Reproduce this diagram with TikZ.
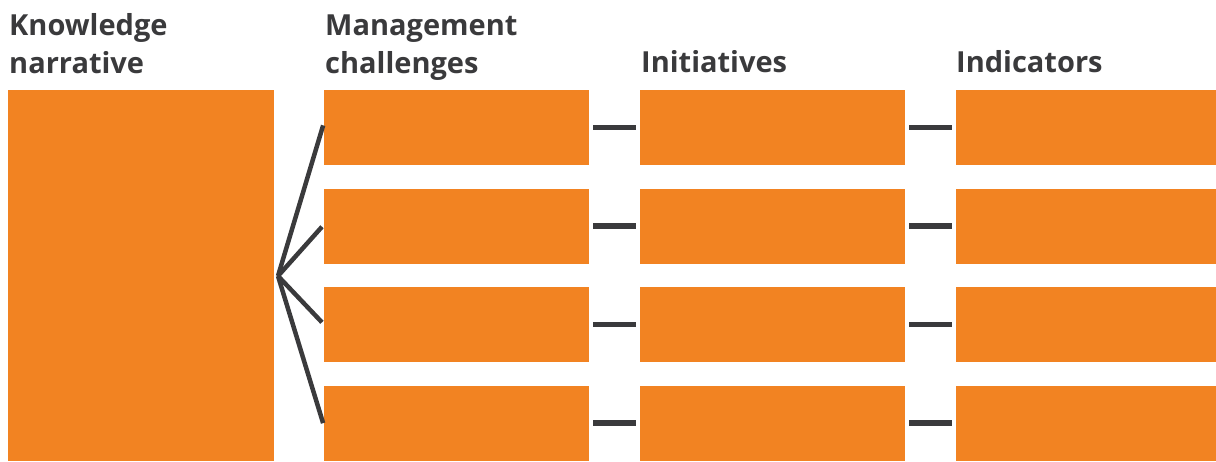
\documentclass[tikz,border=0pt]{standalone}
\usepackage{fontspec}
\setmainfont{Open Sans}
\usepackage{xcolor}
\usepackage{tikz}
\usetikzlibrary{positioning}
\definecolor{ink}{HTML}{3A3A3C}
\definecolor{blockorange}{HTML}{F28322}
\tikzset{
  block/.style={fill=blockorange,draw=none,inner sep=0pt,outer sep=0pt,minimum width=265pt,minimum height=75pt},
  head/.style={font=\fontsize{29}{38}\selectfont\bfseries,text=ink,align=left,inner sep=0pt,anchor=base west},
  fan/.style={draw=ink,line width=4.5pt,shorten >=3pt},
  link/.style={draw=ink,line width=5.5pt,shorten <=4pt,shorten >=4pt}
}
\begin{document}
\begin{tikzpicture}[x=1pt,y=-1pt,node distance=23.5pt and 51pt]
  \useasboundingbox (0,0) rectangle (1216,461);
  % headings
  \node[head] (hnarr) at (9,73) {Knowledge\\narrative};
  \node[head] (hchal) at (325,73) {Management\\challenges};
  \node[head] (hinit) at (641,72) {Initiatives};
  \node[head] (hind) at (956,72) {Indicators};
  % blocks
  \node[block, minimum width=266pt, minimum height=371pt, anchor=north west] (narr) at (8,90) {};
  \node[block, anchor=north west] (chal1) at (324,90) {};
  \node[block, below=of chal1] (chal2) {};
  \node[block, below=of chal2] (chal3) {};
  \node[block, below=of chal3] (chal4) {};
  \node[block, right=of chal1] (init1) {};
  \node[block, right=of chal2] (init2) {};
  \node[block, right=of chal3] (init3) {};
  \node[block, right=of chal4] (init4) {};
  \node[block, minimum width=260pt, right=of init1] (ind1) {};
  \node[block, minimum width=260pt, right=of init2] (ind2) {};
  \node[block, minimum width=260pt, right=of init3] (ind3) {};
  \node[block, minimum width=260pt, right=of init4] (ind4) {};
  \coordinate (hub) at (278,276);
  % connectors
  \draw[fan] (hub) -- ([yshift=5pt]chal1.west); \draw[fan] (hub) -- ([yshift=1.5pt]chal2.west);
  \draw[fan] (hub) -- (chal3.west); \draw[fan] (hub) -- ([yshift=-3pt]chal4.west);
  \draw[link] (chal1) -- (init1); \draw[link] (init1) -- (ind1);
  \draw[link] (chal2) -- (init2); \draw[link] (init2) -- (ind2);
  \draw[link] (chal3) -- (init3); \draw[link] (init3) -- (ind3);
  \draw[link] (chal4) -- (init4); \draw[link] (init4) -- (ind4);
\end{tikzpicture}
\end{document}
